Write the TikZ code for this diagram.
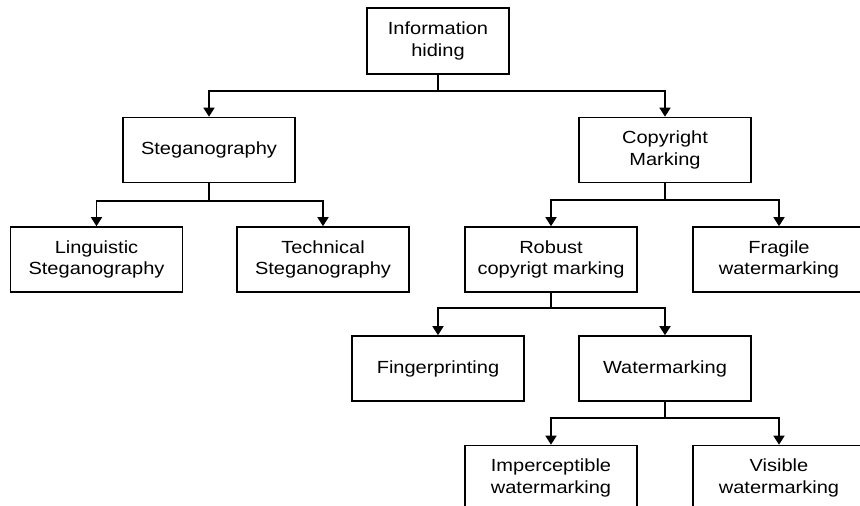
\documentclass[tikz,border=0pt]{standalone}
\usepackage{fontspec}
\setmainfont{Liberation Sans}
\newfontfamily\boxfont[FakeStretch=1.14]{Liberation Sans}
\usetikzlibrary{arrows.meta,positioning}
\tikzset{
  box/.style={draw,line width=0.9pt,minimum width=3.44cm,minimum height=1.3cm,
    inner sep=2pt,align=center,font=\boxfont\fontsize{10}{12.4}\selectfont},
  rootbox/.style={box,minimum width=2.84cm,minimum height=1.32cm},
  arr/.style={-{Triangle[length=1.8mm,width=2.2mm]},line width=0.9pt},
}

\begin{document}
\begin{tikzpicture}[x=0.02cm,y=-0.02cm]
  \useasboundingbox (0,0) rectangle (860,506);
  \clip (0,0) rectangle (860,506);
  \node[rootbox] (info) at (438,41) {Information\\hiding};
  \node[box] (steg) at (209,150) {Steganography};
  \node[box] (copy) at (665,150) {Copyright\\Marking};
  \node[box] (ling) at (96.5,259.5) {Linguistic\\Steganography};
  \node[box] (tech) at (323,259.5) {Technical\\Steganography};
  \node[box] (robust) at (551,259.5) {Robust\\copyrigt marking};
  \node[box] (fragile) at (779,259.5) {Fragile\\watermarking};
  \node[box] (finger) at (438,368.5) {Fingerprinting};
  \node[box] (water) at (665,368.5) {Watermarking};
  \node[box] (imper) at (551,478) {Imperceptible\\watermarking};
  \node[box] (visible) at (779,478) {Visible\\watermarking};
  \draw[arr] (info.south) -- ++(0,16) -| (steg.north);
  \draw[arr] (info.south) -- ++(0,16) -| (copy.north);
  \draw[arr] (steg.south) -- ++(0,18) -| (ling.north);
  \draw[arr] (steg.south) -- ++(0,18) -| (tech.north);
  \draw[arr] (copy.south) -- ++(0,17) -| (robust.north);
  \draw[arr] (copy.south) -- ++(0,17) -| (fragile.north);
  \draw[arr] (robust.south) -- ++(0,15) -| (finger.north);
  \draw[arr] (robust.south) -- ++(0,15) -| (water.north);
  \draw[arr] (water.south) -- ++(0,16) -| (imper.north);
  \draw[arr] (water.south) -- ++(0,16) -| (visible.north);
\end{tikzpicture}
\end{document}
